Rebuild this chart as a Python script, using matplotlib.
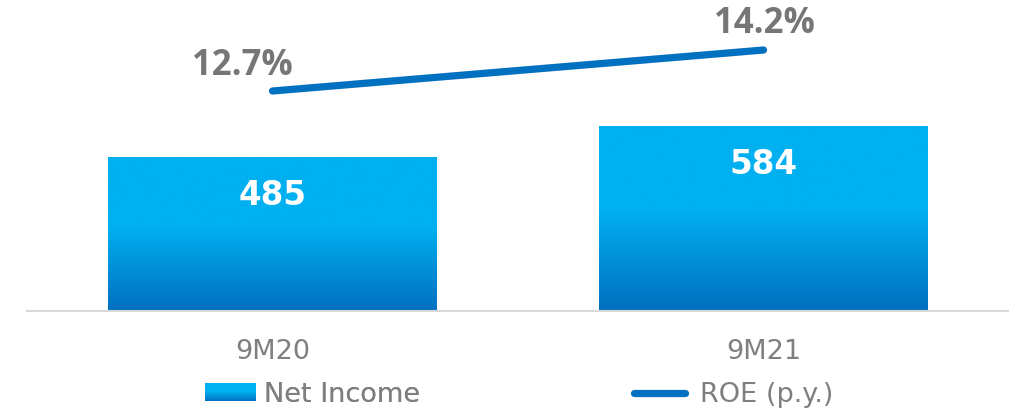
import numpy as np
import matplotlib
matplotlib.use("Agg")
import matplotlib.pyplot as plt
from matplotlib.colors import LinearSegmentedColormap
from matplotlib.legend_handler import HandlerBase
from matplotlib.patches import Rectangle
from matplotlib.lines import Line2D

# Data
categories = ["9M20", "9M21"]
net_income = [485, 584]
roe = [12.7, 14.2]
roe_labels = ["12.7%", "14.2%"]
series_names = ["Net Income", "ROE (p.y.)"]

TOP_BLUE = "#00B0F0"
BOTTOM_BLUE = "#0070C0"
LINE_BLUE = "#0070C0"
GRAY_TEXT = "#767676"
LIGHT_TEXT = "#7F7F7F"

grad_cmap = LinearSegmentedColormap.from_list(
    "bar_grad", [(0.0, BOTTOM_BLUE), (0.55, TOP_BLUE), (1.0, TOP_BLUE)])

plt.rcParams["font.family"] = ["DejaVu Sans"]

W, H = 1009, 411
fig = plt.figure(figsize=(W / 100, H / 100), dpi=100)
ax_left, ax_right = 27 / W, 1009 / W
ax_bottom, ax_top = (H - 311) / H, 1.0
ax = fig.add_axes([ax_left, ax_bottom, ax_right - ax_left, ax_top - ax_bottom])
ax2 = ax.twinx()

x = np.arange(len(categories))
bar_w = 0.67

# Bars with a vertical gradient
bars = ax.bar(x, net_income, width=bar_w, color="none", edgecolor="none", zorder=2)
grad = np.linspace(0, 1, 256).reshape(-1, 1)
for b in bars:
    x0, y0 = b.get_x(), b.get_y()
    ax.imshow(grad, cmap=grad_cmap, origin="lower", aspect="auto",
              extent=[x0, x0 + b.get_width(), y0, y0 + b.get_height()],
              interpolation="bicubic", zorder=2)
ax.set_xlim(-0.5, 1.5)
ax.set_ylim(0, 984)
ax2.set_ylim(4.65, 16.03)

for xi, v in zip(x, net_income):
    ax.annotate(str(v), (xi, v), xytext=(0, -38), textcoords="offset pixels",
                ha="center", va="center", color="white", fontsize=23.5,
                fontweight="bold", zorder=5)

# ROE line
ax2.plot(x, roe, color=LINE_BLUE, lw=5.2, solid_capstyle="round", zorder=3)
ax2.annotate(roe_labels[0], (x[0], roe[0]), xytext=(20, 25), textcoords="offset pixels",
             ha="right", va="center", color=GRAY_TEXT, fontsize=25, fontweight="bold",
             family=["Open Sans", "DejaVu Sans"])
ax2.annotate(roe_labels[1], (x[1], roe[1]), xytext=(51, 26), textcoords="offset pixels",
             ha="right", va="center", color=GRAY_TEXT, fontsize=25, fontweight="bold",
             family=["Open Sans", "DejaVu Sans"])

# Axes styling
for a in (ax, ax2):
    for s in ("top", "right", "left"):
        a.spines[s].set_visible(False)
    a.set_yticks([])
ax2.spines["bottom"].set_visible(False)
ax.spines["bottom"].set_color("#D9D9D9")
ax.spines["bottom"].set_linewidth(1.5)
ax.set_xticks(x)
ax.set_xticklabels(categories, fontsize=19.5, color=LIGHT_TEXT)
ax.tick_params(axis="x", length=0, pad=20)


class GradientHandler(HandlerBase):
    def create_artists(self, legend, orig_handle, xdescent, ydescent,
                       width, height, fontsize, trans):
        n = 20
        arts = []
        for i in range(n):
            c = grad_cmap(i / (n - 1))
            r = Rectangle((-xdescent, -ydescent + height * i / n), width, height / n + 0.3,
                          facecolor=c, edgecolor="none", transform=trans)
            arts.append(r)
        return arts


grad_handle = Rectangle((0, 0), 1, 1)
line_handle = Line2D([0, 1], [0, 0], color=LINE_BLUE, lw=5.2, solid_capstyle="round")
leg_y = (H - 395) / H
leg_kw = dict(loc="center left", frameon=False, fontsize=19.5, borderpad=0,
              borderaxespad=0, handlelength=1.87, labelcolor=LIGHT_TEXT)
leg1 = fig.legend([grad_handle], [series_names[0]], bbox_to_anchor=(205 / W, leg_y),
                  handleheight=0.62, handletextpad=0.3,
                  handler_map={Rectangle: GradientHandler()}, **leg_kw)
fig.add_artist(leg1)
leg2 = fig.legend([line_handle], [series_names[1]], bbox_to_anchor=(634 / W, leg_y),
                  handletextpad=0.55, **leg_kw)

fig.savefig("out.png", dpi=100)
